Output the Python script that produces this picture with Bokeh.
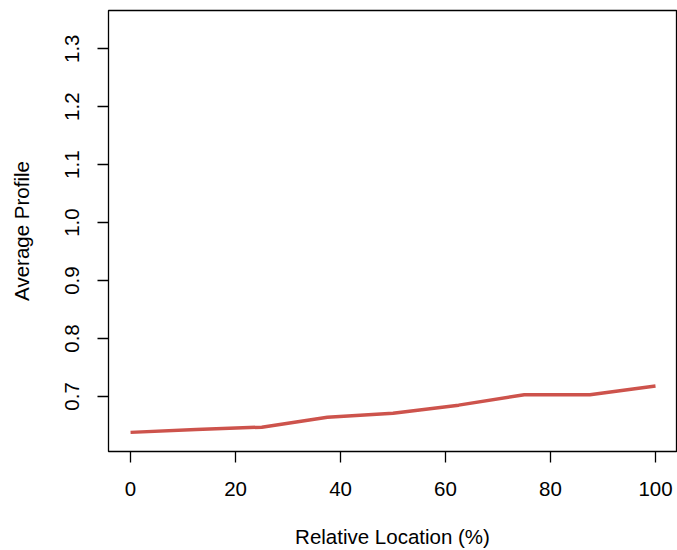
from bokeh.plotting import figure
from bokeh.models import Range1d, FixedTicker
from bokeh.embed import file_html
from bokeh.resources import INLINE

# Data
rel_location = [0, 12.5, 25, 37.5, 50, 62.5, 75, 87.5, 100]
avg_profile = [0.638, 0.643, 0.647, 0.664, 0.671, 0.685, 0.703, 0.703, 0.718]
x_ticks = [0, 20, 40, 60, 80, 100]
y_ticks = [0.7, 0.8, 0.9, 1.0, 1.1, 1.2, 1.3]
y_tick_labels = ["0.7", "0.8", "0.9", "1.0", "1.1", "1.2", "1.3"]

FONT = "Liberation Sans"

p = figure(width=677, height=550, output_backend="svg", toolbar_location=None,
           x_range=Range1d(-4.2, 104.0), y_range=Range1d(0.605, 1.366),
           min_border_left=108, min_border_right=1, min_border_top=10, min_border_bottom=99)

p.line(rel_location, avg_profile, line_color="#CD534C", line_width=3.5)

p.xgrid.visible = False
p.ygrid.visible = False
p.outline_line_color = "black"
p.outline_line_width = 1.3
p.background_fill_color = "white"
p.border_fill_color = "white"

for ax in (p.xaxis[0], p.yaxis[0]):
    ax.axis_line_color = None
    ax.major_tick_in = 0
    ax.major_tick_out = 11
    ax.major_tick_line_width = 1.3
    ax.major_tick_line_color = "black"
    ax.minor_tick_line_color = None
    ax.major_label_text_font = FONT
    ax.major_label_text_font_size = "20.5px"
    ax.major_label_text_color = "black"
    ax.axis_label_text_font = FONT
    ax.axis_label_text_font_size = "20.5px"
    ax.axis_label_text_font_style = "normal"
    ax.axis_label_text_color = "black"

p.xaxis[0].ticker = FixedTicker(ticks=x_ticks)
p.yaxis[0].ticker = FixedTicker(ticks=y_ticks)
p.yaxis[0].major_label_overrides = {t: l for t, l in zip(y_ticks, y_tick_labels)}
p.yaxis[0].major_label_orientation = "vertical"
p.xaxis[0].axis_label = "Relative Location (%)"
p.yaxis[0].axis_label = "Average Profile"
p.xaxis[0].major_label_standoff = 19
p.yaxis[0].major_label_standoff = 18
p.xaxis[0].axis_label_standoff = 26
p.yaxis[0].axis_label_standoff = 30

open("out.html", "w").write(file_html(p, INLINE))
